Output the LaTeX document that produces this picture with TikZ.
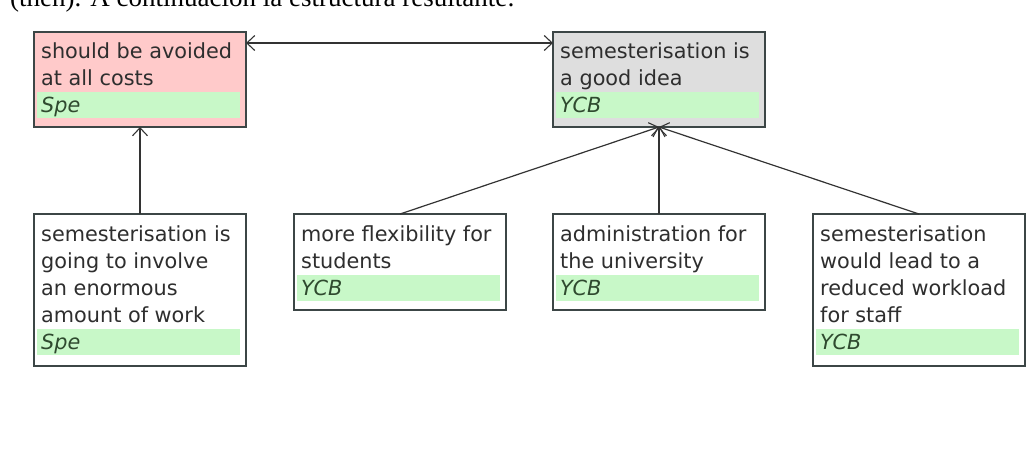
\documentclass[tikz,border=0pt]{standalone}
\usepackage{fontspec}
\usetikzlibrary{arrows.meta}
\newfontfamily\cardfont{DejaVu Sans}
\newfontfamily\captionfont{Liberation Serif}

\definecolor{pinkfill}{HTML}{FFCACA}
\definecolor{grayfill}{HTML}{DEDEDE}
\definecolor{bandgreen}{HTML}{C8F8C8}
\definecolor{boxline}{HTML}{3C4646}
\definecolor{cardtext}{HTML}{2E2E2E}
\definecolor{bandtext}{HTML}{2F4A2F}
\definecolor{linkgray}{HTML}{333333}

\tikzset{
  card/.style={draw=boxline, line width=1.4pt, anchor=north west,
    inner sep=0pt, outer sep=0pt, minimum width=212pt},
  cardlines/.style={anchor=base west, inner sep=0pt, text=cardtext},
  band/.style={fill=bandgreen, anchor=north west, inner sep=0pt,
    minimum width=203pt, minimum height=26pt},
  bandlabel/.style={anchor=base west, inner sep=0pt, text=bandtext,
    font=\cardfont\itshape\fontsize{20.8}{27}\selectfont},
  barb/.tip={Straight Barb[length=8pt,width=15pt,line width=1.1pt]},
  link/.style={draw=linkgray, line width=1.2pt, -barb},
}
% multi-line card text, baseline at the first line
\newcommand{\cardlines}[1]{\parbox[t]{205pt}{\raggedright\cardfont\fontsize{20.8}{27}\selectfont #1}}

\begin{document}
\begin{tikzpicture}[x=1pt,y=-1pt]
\useasboundingbox (0,0) rectangle (1034,456);

% caption line running off the top edge
\begin{scope}
  \clip (0,0) rectangle (1034,20);
  \node[anchor=base west, inner sep=0pt, font=\captionfont\fontsize{27}{30}\selectfont]
    (caption) at (10,6) {(then). A continuación la estructura resultante:};
\end{scope}

% top row
\node[card, fill=pinkfill, minimum height=95pt] (avoid) at (34,32) {};
\node[band] (avoidband) at (37,92) {};
\node[cardlines] (avoidtxt) at (41,58) {\cardlines{should be avoided\\at all costs}};
\node[bandlabel] (avoidtag) at (41,112) {Spe};

\node[card, fill=grayfill, minimum height=95pt] (good) at (553,32) {};
\node[band] (goodband) at (556,92) {};
\node[cardlines] (goodtxt) at (560,58) {\cardlines{semesterisation is\\a good idea}};
\node[bandlabel] (goodtag) at (560,112) {YCB};

% bottom row
\node[card, fill=white, minimum height=152pt] (work) at (34,214) {};
\node[band] (workband) at (37,329) {};
\node[cardlines] (worktxt) at (41,241) {\cardlines{semesterisation is\\going to involve\\an enormous\\amount of work}};
\node[bandlabel] (worktag) at (41,349) {Spe};

\node[card, fill=white, minimum height=96pt] (flex) at (294,214) {};
\node[band] (flexband) at (297,275) {};
\node[cardlines] (flextxt) at (301,241) {\cardlines{more flexibility for\\students}};
\node[bandlabel] (flextag) at (301,295) {YCB};

\node[card, fill=white, minimum height=96pt] (admin) at (553,214) {};
\node[band] (adminband) at (556,275) {};
\node[cardlines] (admintxt) at (560,241) {\cardlines{administration for\\the university}};
\node[bandlabel] (admintag) at (560,295) {YCB};

\node[card, fill=white, minimum height=152pt] (load) at (813,214) {};
\node[band] (loadband) at (816,329) {};
\node[cardlines] (loadtxt) at (820,241) {\cardlines{semesterisation\\would lead to a\\reduced workload\\for staff}};
\node[bandlabel] (loadtag) at (820,349) {YCB};

% connectors
\draw[link, barb-barb] ([yshift=-11pt]avoid.north east) -- ([yshift=-11pt]good.north west);
\draw[link] (work.north) -- (avoid.south);
\draw[link] (flex.north) -- (good.south);
\draw[link] (admin.north) -- (good.south);
\draw[link] (load.north) -- (good.south);
\end{tikzpicture}
\end{document}
